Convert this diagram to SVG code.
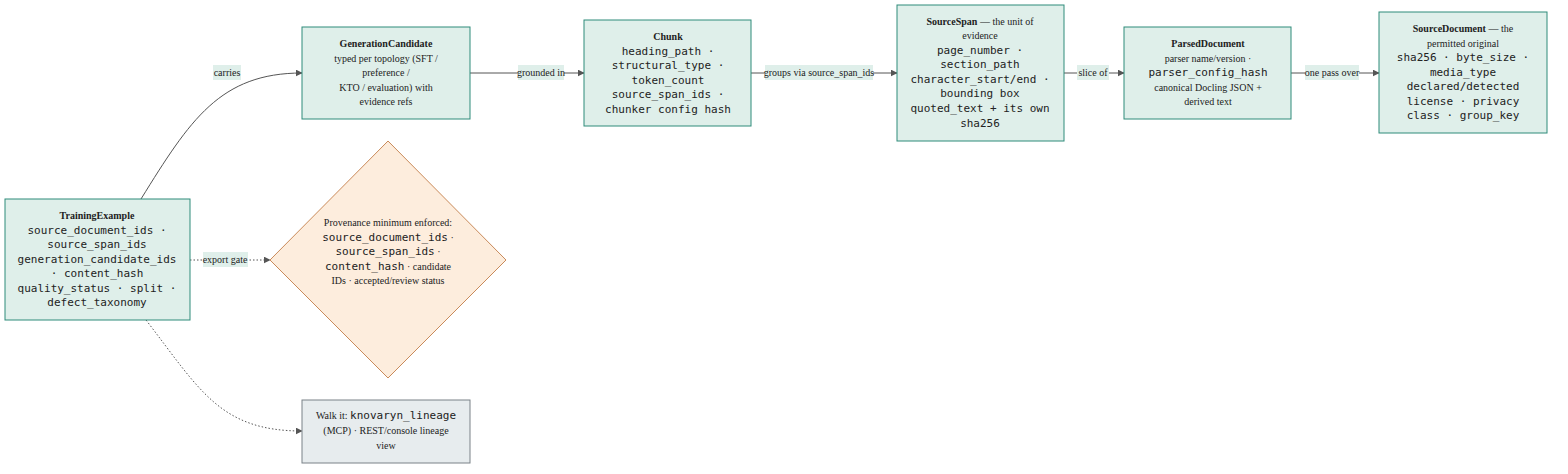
<svg xmlns="http://www.w3.org/2000/svg" width="1568" height="474" viewBox="0 0 1568 474">
<style>
.n{fill:#dfefea;stroke:#2e8b7a;stroke-width:1}
.g{fill:#e7ecee;stroke:#7a8288;stroke-width:1}
.d{fill:#fdeddd;stroke:#c98a5a;stroke-width:1}
text{font-family:"Liberation Serif",serif;font-size:10px;fill:#222;text-anchor:middle}
.b{font-weight:bold}
.m{font-family:"DejaVu Sans Mono",monospace;font-size:11px}
.e{fill:none;stroke:#555;stroke-width:1}
.dot{stroke-dasharray:1.5 2}
.lb{fill:#dfefea}
</style>
<defs><marker id="a" viewBox="0 0 10 10" refX="9" refY="5" markerWidth="7" markerHeight="7" orient="auto"><path d="M0,0L10,5L0,10z" fill="#555"/></marker></defs>
<g id="edges">
<path class="e" d="M141,199C190,120 220,73 302,73" marker-end="url(#a)"/>
<path class="e" d="M470,73H584" marker-end="url(#a)"/>
<path class="e" d="M751,73H897" marker-end="url(#a)"/>
<path class="e" d="M1064,73H1124" marker-end="url(#a)"/>
<path class="e" d="M1291,73H1379" marker-end="url(#a)"/>
<path class="e dot" d="M190,260H270" marker-end="url(#a)"/>
<path class="e dot" d="M146,320C200,390 220,431 302,431" marker-end="url(#a)"/>
<rect class="lb" x="213" y="65" width="28" height="15"/><text x="227" y="76">carries</text>
<rect class="lb" x="518" y="65" width="46" height="15"/><text x="541" y="76">grounded in</text>
<rect class="lb" x="765" y="65" width="108" height="15"/><text x="819" y="76">groups via source_span_ids</text>
<rect class="lb" x="1077" y="65" width="32" height="15"/><text x="1093" y="76">slice of</text>
<rect class="lb" x="1305" y="65" width="54" height="15"/><text x="1332" y="76">one pass over</text>
<rect class="lb" x="203" y="252" width="45" height="15"/><text x="225" y="263">export gate</text>
</g>
<g id="TrainingExample"><rect class="n" x="5" y="199" width="185" height="121"/>
<text class="b" x="97" y="219">TrainingExample</text>
<text class="m" x="97" y="234">source_document_ids ·</text>
<text class="m" x="97" y="248">source_span_ids</text>
<text class="m" x="97" y="263">generation_candidate_ids</text>
<text class="m" x="97" y="277">· content_hash</text>
<text class="m" x="97" y="292">quality_status · split ·</text>
<text class="m" x="97" y="306">defect_taxonomy</text></g>
<g id="GenerationCandidate"><rect class="n" x="302" y="27" width="168" height="92"/>
<text class="b" x="386" y="47">GenerationCandidate</text>
<text x="386" y="62">typed per topology (SFT /</text>
<text x="386" y="76">preference /</text>
<text x="386" y="91">KTO / evaluation) with</text>
<text x="386" y="105">evidence refs</text></g>
<g id="Chunk"><rect class="n" x="584" y="20" width="167" height="106"/>
<text class="b" x="668" y="40">Chunk</text>
<text class="m" x="668" y="55">heading_path ·</text>
<text class="m" x="668" y="69">structural_type ·</text>
<text class="m" x="668" y="84">token_count</text>
<text class="m" x="668" y="98">source_span_ids ·</text>
<text class="m" x="668" y="113">chunker config hash</text></g>
<g id="SourceSpan"><rect class="n" x="897" y="5" width="167" height="136"/>
<text x="980" y="25"><tspan class="b">SourceSpan</tspan> — the unit of</text>
<text x="980" y="39">evidence</text>
<text class="m" x="980" y="54">page_number ·</text>
<text class="m" x="980" y="68">section_path</text>
<text class="m" x="980" y="83">character_start/end ·</text>
<text class="m" x="980" y="97">bounding box</text>
<text class="m" x="980" y="112">quoted_text + its own</text>
<text class="m" x="980" y="127">sha256</text></g>
<g id="ParsedDocument"><rect class="n" x="1124" y="27" width="167" height="92"/>
<text class="b" x="1208" y="47">ParsedDocument</text>
<text x="1208" y="62">parser name/version ·</text>
<text class="m" x="1208" y="76">parser_config_hash</text>
<text x="1208" y="91">canonical Docling JSON +</text>
<text x="1208" y="105">derived text</text></g>
<g id="SourceDocument"><rect class="n" x="1379" y="12" width="168" height="121"/>
<text x="1463" y="32"><tspan class="b">SourceDocument</tspan> — the</text>
<text x="1463" y="47">permitted original</text>
<text class="m" x="1463" y="61">sha256 · byte_size ·</text>
<text class="m" x="1463" y="76">media_type</text>
<text class="m" x="1463" y="90">declared/detected</text>
<text class="m" x="1463" y="105">license · privacy</text>
<text class="m" x="1463" y="119">class · group_key</text></g>
<g id="Provenance"><path class="d" d="M388,141L506,260L388,378L270,260z"/>
<text x="388" y="226">Provenance minimum enforced:</text>
<text x="388" y="241"><tspan class="m">source_document_ids</tspan> ·</text>
<text x="388" y="255"><tspan class="m">source_span_ids</tspan> ·</text>
<text x="388" y="270"><tspan class="m">content_hash</tspan> · candidate</text>
<text x="388" y="284">IDs · accepted/review status</text></g>
<g id="WalkIt"><rect class="g" x="302" y="400" width="168" height="63"/>
<text x="386" y="419">Walk it: <tspan class="m">knovaryn_lineage</tspan></text>
<text x="386" y="434">(MCP) · REST/console lineage</text>
<text x="386" y="449">view</text></g>
</svg>
